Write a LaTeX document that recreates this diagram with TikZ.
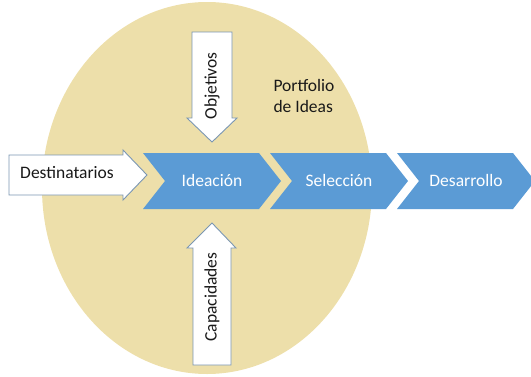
\documentclass[tikz,border=0pt]{standalone}
\usepackage{fontspec}
\setmainfont{Carlito}
\usepackage{tikz}
\usetikzlibrary{calc}
\usepackage{xcolor}
\definecolor{idtan}{RGB}{237,223,170}
\definecolor{idblue}{RGB}{91,155,213}
\definecolor{idedge}{RGB}{122,150,178}
\newcommand{\chevw}{116}
\newcommand{\prchev}[3]{\fill[idblue] (#2,153) -- ++(\chevw,0) -- ++(22,28) -- ++(-22,28) -- ++(-\chevw,0) -- ++(22,-28) -- cycle;
  \node[stagelabel] (#1) at (#2+69,180) {#3};}

\begin{document}
\begin{tikzpicture}[x=1pt,y=-1pt,
    stagelabel/.style={text=white,font=\fontsize{17.5}{21}\selectfont},
    inputlabel/.style={text=black!90,font=\fontsize{17.5}{21}\selectfont},
    inputarrow/.style={draw=idedge,fill=white,line width=0.9pt}]

    \useasboundingbox (0,0) rectangle (531,376);

    \fill[idtan] (207,188) ellipse (165 and 186);

    % etapas
    \prchev{ideacion}{143}{Ideación}
    \prchev{seleccion}{270}{Selección}
    \prchev{desarrollo}{397}{Desarrollo}

    % entradas
    \draw[inputarrow] (9,155) -- (123,155) -- (123,150) -- (147,175) -- (123,200) -- (123,195) -- (9,195) -- cycle;
    \node[inputlabel] (destinatarios) at (67,173) {Destinatarios};

    \draw[inputarrow] (192,32) -- (232,32) -- (232,118) -- (237,118) -- (212,142) -- (187,118) -- (192,118) -- cycle;
    \node[inputlabel,rotate=90] (objetivos) at (212,86) {Objetivos};

    \draw[inputarrow] (193,365) -- (231,365) -- (231,248) -- (236,248) -- (212,223) -- (187,248) -- (193,248) -- cycle;
    \node[inputlabel,rotate=90] (capacidades) at (212,297) {Capacidades};

    \node[inputlabel,anchor=west,align=left] (portfolio) at (270,96) {Portfolio\\de Ideas};
\end{tikzpicture}
\end{document}
